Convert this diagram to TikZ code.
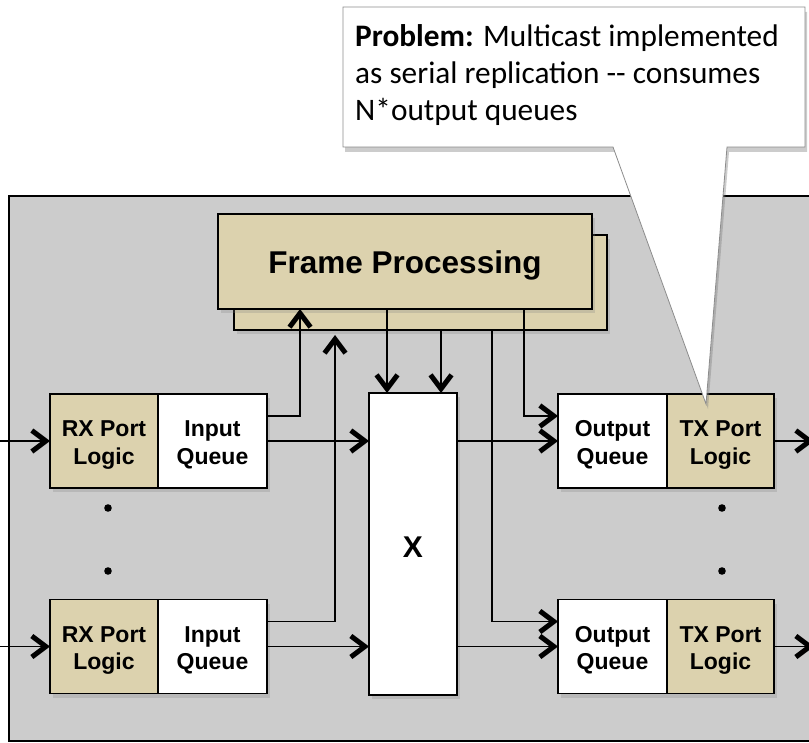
\documentclass[tikz,border=0pt]{standalone}
\usepackage{fontspec}
\setmainfont{Liberation Sans}
\newfontfamily\notefont{Carlito}
\usetikzlibrary{positioning,shadows,arrows.meta}
\definecolor{tan}{RGB}{220,210,174}
\definecolor{panel}{RGB}{204,204,204}

\begin{document}
\begin{tikzpicture}[x=1pt,y=-1pt,
  blk/.style={draw, line width=1.8pt, outer sep=0pt, minimum height=94pt, align=center,
    font=\fontsize{23}{27.5}\selectfont\bfseries, text height=46pt, text depth=0pt,
    drop shadow={opacity=0.25, shadow xshift=3pt, shadow yshift=-4pt}},
  port/.style={blk, fill=tan, minimum width=108pt},
  queue/.style={blk, fill=white, minimum width=109pt},
  arr/.style={line width=1.4pt, -{Straight Barb[length=14pt, width=21pt, line width=5pt]}},
  wire/.style={line width=1.4pt}]
  \useasboundingbox (0,0) rectangle (809,743);

  % switch chassis
  \draw[fill=panel, line width=1.8pt] (9,196) rectangle (840,741);

  % frame processing (two stacked engines)
  \node[blk, fill=tan, minimum width=373pt, minimum height=95pt] (fpb) at (420.5,282.5) {};
  \node[blk, fill=tan, minimum width=374pt, minimum height=95pt,
    font=\fontsize{31.5}{36}\selectfont\bfseries, text height=31pt, text depth=6pt]
    (fp) at (405,261.5) {Frame Processing};

  % receive side
  \node[port] (rx1) at (104,441) {RX Port\\Logic};
  \node[queue, right=0pt of rx1] (iq1) {Input\\Queue};
  \node[port] (rx2) at (104,646.5) {RX Port\\Logic};
  \node[queue, right=0pt of rx2] (iq2) {Input\\Queue};

  % crossbar
  \node[blk, fill=white, minimum width=88pt, minimum height=302pt,
    font=\fontsize{30}{34}\selectfont\bfseries, text height=26pt] (xbar) at (413,544) {X};

  % transmit side
  \node[queue] (oq1) at (612.5,441) {Output\\Queue};
  \node[port, minimum width=107pt, right=0pt of oq1] (tx1) {TX Port\\Logic};
  \node[queue] (oq2) at (612.5,646.5) {Output\\Queue};
  \node[port, minimum width=107pt, right=0pt of oq2] (tx2) {TX Port\\Logic};

  \coordinate (in1) at (0,441);
  \coordinate (in2) at (0,646.5);
  \coordinate (out1) at (814,441);
  \coordinate (out2) at (814,646.5);

  % line in / line out
  \draw[arr] (in1) -- (rx1.west);
  \draw[arr] (in2) -- (rx2.west);
  \draw[arr] (tx1.east) -- (out1);
  \draw[arr] (tx2.east) -- (out2);

  % input queues: data to the crossbar, headers up to processing
  \draw[arr] (iq1.east) -- (xbar.west |- iq1.east);
  \draw[arr] (iq2.east) -- (xbar.west |- iq2.east);
  \draw[arr] ([yshift=25pt]iq1.east) -| ([xshift=-105pt]fp.south);
  \draw[arr] ([yshift=25pt]iq2.east) -| ([xshift=-85.5pt,yshift=-5pt]fpb.south);

  % forwarding decisions down to the crossbar
  \draw[arr] ([xshift=-18pt]fp.south) -- ([xshift=-18pt]fp.south |- xbar.north);
  \draw[arr] ([xshift=20.5pt]fpb.south) -- ([xshift=20.5pt]fpb.south |- xbar.north);

  % crossbar out and replication requests to output queues
  \draw[arr] (xbar.east |- oq1.west) -- (oq1.west);
  \draw[arr] (xbar.east |- oq2.west) -- (oq2.west);
  \draw[arr] ([xshift=119pt]fp.south) |- ([yshift=25pt]oq1.west);
  \draw[arr] ([xshift=71.5pt]fpb.south) |- ([yshift=25pt]oq2.west);

  % more ports
  \foreach \px in {108,722}
    \foreach \py in {508,571}
      \fill (\px,\py) circle (3.8pt);

  % callout
  \draw[fill=white, draw=black!45, line width=0.8pt,
    drop shadow={opacity=0.4, shadow xshift=2pt, shadow yshift=-5pt}]
    (343,7) -- (805,7) -- (805,147) -- (727,147) -- (706,404) -- (613,147)
    -- (343,147) -- cycle;
  \node[anchor=north west, inner sep=0pt, align=left,
    font=\notefont\fontsize{31.3}{37}\selectfont] (note) at (355,24)
    {\textbf{Problem:} Multicast implemented\\
     as serial replication -{}- consumes\\
     N*output queues};
\end{tikzpicture}
\end{document}
